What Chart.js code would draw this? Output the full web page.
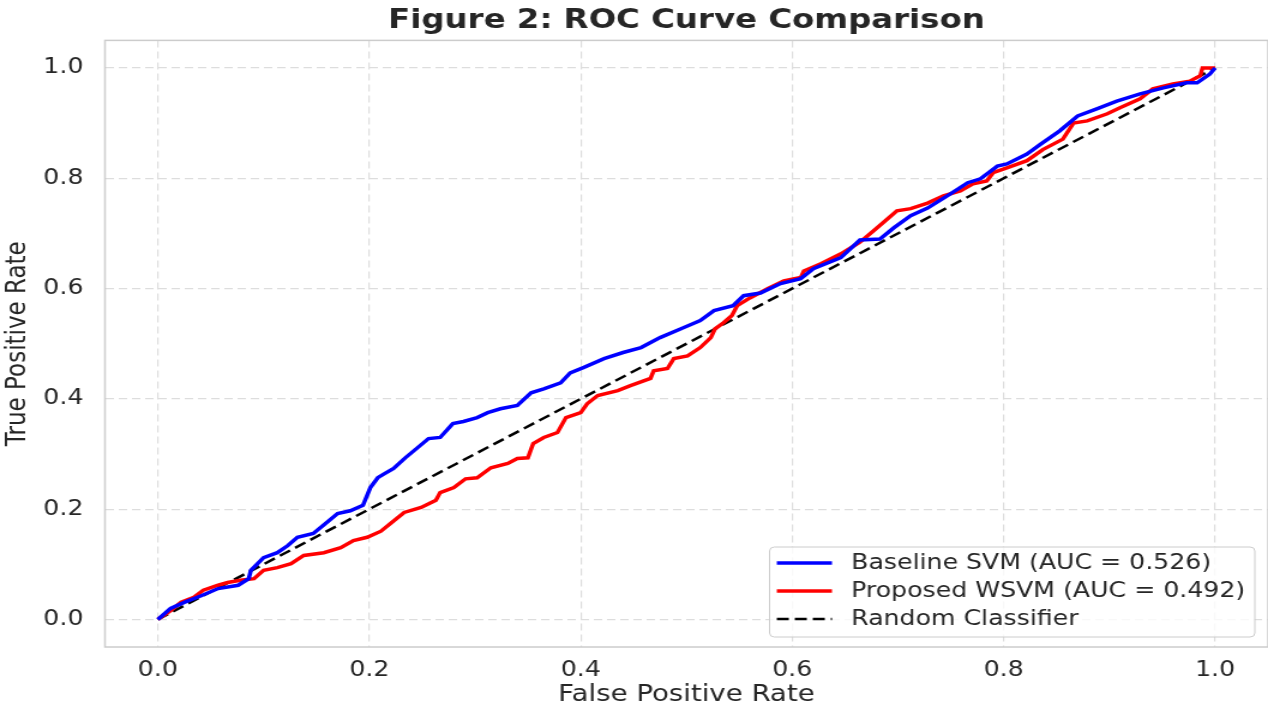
<!DOCTYPE html>
<html>
<head>
<meta charset="utf-8">
<script src="https://cdn.jsdelivr.net/npm/chart.js@4"></script>
<style>
  html, body { margin: 0; padding: 0; background: #ffffff; overflow: hidden; }
  #wrap { width: 1057px; height: 709px; transform: scaleX(1.19962); transform-origin: 0 0; }
</style>
</head>
<body>
<div id="wrap"><canvas id="roc" width="1057" height="709"></canvas></div>
<script>
// curve values
var fprBaseline = [0, .012, .025, .041, .057, .076, .086, .088, .10, .113, .123, .132, .147, .156, .170, .182, .194,
    .201, .208, .214, .223, .234, .246, .256, .267, .279, .289, .302, .312, .324, .340, .353, .365, .381, .390, .403,
    .422, .440, .457, .475, .497, .513, .526, .544, .554, .570, .589, .608, .620, .646, .664, .683, .696, .712, .728,
    .750, .766, .778, .794, .803, .822, .835, .853, .870, .888, .907, .929, .951, .973, .983, .995, 1.0];
var tprBaseline = [0, .020, .031, .043, .056, .062, .074, .089, .112, .121, .134, .149, .156, .170, .192, .197, .207,
    .239, .257, .264, .274, .293, .312, .328, .330, .355, .359, .366, .375, .382, .388, .411, .418, .429, .447, .457,
    .473, .484, .493, .511, .529, .542, .560, .569, .587, .592, .609, .618, .636, .656, .688, .690, .710, .732, .746,
    .772, .792, .799, .822, .826, .844, .862, .886, .913, .926, .940, .953, .964, .973, .973, .989, 1.0];

var fprProposed = [0, .012, .022, .034, .043, .057, .066, .078, .091, .10, .113, .126, .138, .157, .173, .185, .198,
    .211, .220, .233, .249, .263, .267, .280, .291, .302, .315, .331, .340, .350, .355, .365, .378, .386, .400, .406,
    .416, .435, .447, .466, .469, .482, .488, .501, .513, .523, .527, .535, .543, .548, .560, .577, .592, .608, .611,
    .627, .646, .664, .677, .690, .699, .712, .728, .743, .759, .771, .784, .790, .803, .822, .837, .856, .866, .879,
    .898, .910, .929, .941, .960, .976, .986, .988, 1.0];
var tprProposed = [0, .016, .031, .040, .053, .062, .067, .071, .074, .089, .094, .101, .116, .121, .130, .143, .149,
    .160, .174, .194, .203, .216, .230, .239, .255, .257, .275, .283, .292, .293, .319, .330, .339, .366, .375, .391,
    .406, .415, .424, .437, .451, .455, .473, .478, .493, .511, .527, .538, .551, .569, .583, .600, .614, .620, .632,
    .645, .663, .684, .705, .726, .741, .745, .755, .768, .777, .790, .795, .810, .819, .832, .852, .871, .900, .904,
    .917, .928, .944, .962, .971, .976, .986, 1.0, 1.0];

var randomX = [0, 1];
var randomY = [0, 1];

var seriesNames = ['Baseline SVM', 'Proposed WSVM', 'Random Classifier'];
var aucValues = [0.526, 0.492];
var tickValues = [0.0, 0.2, 0.4, 0.6, 0.8, 1.0];

function toPoints(xs, ys) {
    var pts = [];
    for (var i = 0; i < xs.length; i++) {
        pts.push({ x: xs[i], y: ys[i] });
    }
    return pts;
}

// full box around the plot
var frame = {
    id: 'frame',
    afterDatasetsDraw: function(chart) {
        var ctx = chart.ctx, a = chart.chartArea;
        ctx.save();
        ctx.strokeStyle = '#cccccc';
        ctx.lineWidth = 1.5;
        ctx.strokeRect(a.left, a.top, a.right - a.left, a.bottom - a.top);
        ctx.restore();
    }
};

// legend in the lower right corner, matplotlib style
var cornerLegend = {
    id: 'cornerLegend',
    afterDraw: function(chart) {
        var ctx = chart.ctx, a = chart.chartArea;
        var sets = chart.data.datasets;
        ctx.save();
        ctx.font = '21px "DejaVu Sans"';
        var textW = 0;
        sets.forEach(function(d) { textW = Math.max(textW, ctx.measureText(d.label).width); });
        var padL = 6, handle = 46, gap = 16, padR = 8, rowH = 28;
        var w = padL + handle + gap + textW + padR;
        var h = 90;
        var right = a.right - 11, bottom = a.bottom - 10;
        var left = right - w, top = bottom - h, r = 4;

        ctx.beginPath();
        ctx.moveTo(left + r, top);
        ctx.arcTo(right, top, right, bottom, r);
        ctx.arcTo(right, bottom, left, bottom, r);
        ctx.arcTo(left, bottom, left, top, r);
        ctx.arcTo(left, top, right, top, r);
        ctx.closePath();
        ctx.fillStyle = 'rgba(255,255,255,0.8)';
        ctx.fill();
        ctx.strokeStyle = '#cccccc';
        ctx.lineWidth = 1;
        ctx.stroke();

        sets.forEach(function(d, i) {
            var y = top + 16 + i * rowH;
            ctx.beginPath();
            ctx.setLineDash(d.borderDash || []);
            ctx.strokeStyle = d.borderColor;
            ctx.lineWidth = d.borderWidth;
            ctx.moveTo(left + padL, y);
            ctx.lineTo(left + padL + handle, y);
            ctx.stroke();
            ctx.setLineDash([]);
            ctx.fillStyle = '#262626';
            ctx.textBaseline = 'middle';
            ctx.textAlign = 'left';
            ctx.fillText(d.label, left + padL + handle + gap, y + 1);
        });
        ctx.restore();
    }
};

function fixedTicks(scale) {
    scale.ticks = tickValues.map(function(v) { return { value: v }; });
}

Chart.defaults.font.family = "'DejaVu Sans', sans-serif";
Chart.defaults.color = '#262626';

var chart = new Chart(document.getElementById('roc'), {
    type: 'line',
    data: {
        datasets: [{
            label: seriesNames[0] + ' (AUC = ' + aucValues[0].toFixed(3) + ')',
            data: toPoints(fprBaseline, tprBaseline),
            borderColor: '#0000ff',
            borderWidth: 3.5,
            pointRadius: 0,
            tension: 0,
            fill: false
        }, {
            label: seriesNames[1] + ' (AUC = ' + aucValues[1].toFixed(3) + ')',
            data: toPoints(fprProposed, tprProposed),
            borderColor: '#ff0000',
            borderWidth: 3.5,
            pointRadius: 0,
            tension: 0,
            fill: false
        }, {
            label: seriesNames[2],
            data: toPoints(randomX, randomY),
            borderColor: '#000000',
            borderWidth: 2.5,
            borderDash: [10, 5],
            pointRadius: 0,
            fill: false
        }]
    },
    options: {
        responsive: false,
        animation: false,
        devicePixelRatio: 1,
        layout: { padding: 0 },
        plugins: {
            legend: { display: false },
            tooltip: { enabled: false },
            title: {
                display: true,
                text: 'Figure 2: ROC Curve Comparison',
                fullSize: false,
                color: '#262626',
                font: { size: 27, weight: 'bold', lineHeight: 1.2 },
                padding: { top: 5, bottom: 3 }
            }
        },
        scales: {
            x: {
                type: 'linear',
                min: -0.05,
                max: 1.05,
                afterBuildTicks: fixedTicks,
                afterFit: function(scale) { scale.height = 62; },
                ticks: {
                    font: { size: 21 },
                    padding: 11,
                    callback: function(v) { return v.toFixed(1); }
                },
                grid: { color: '#dddddd', lineWidth: 1.2, drawTicks: false, tickLength: 0 },
                border: { display: false, dash: [7, 4] },
                title: {
                    display: true,
                    text: 'False Positive Rate',
                    font: { size: 23, lineHeight: 1.2 },
                    padding: { top: 0, bottom: 0 }
                }
            },
            y: {
                type: 'linear',
                min: -0.05,
                max: 1.05,
                afterBuildTicks: fixedTicks,
                afterFit: function(scale) { scale.width = 87.5; },
                ticks: {
                    font: { size: 21 },
                    padding: 18,
                    callback: function(v) { return v.toFixed(1); }
                },
                grid: { color: '#dddddd', lineWidth: 1.2, drawTicks: false, tickLength: 0 },
                border: { display: false, dash: [7, 4] },
                title: {
                    display: true,
                    text: 'True Positive Rate',
                    font: { size: 23, lineHeight: 1.2 },
                    padding: { top: 1, bottom: 0 }
                }
            }
        }
    },
    plugins: [frame, cornerLegend]
});
</script>
</body>
</html>
